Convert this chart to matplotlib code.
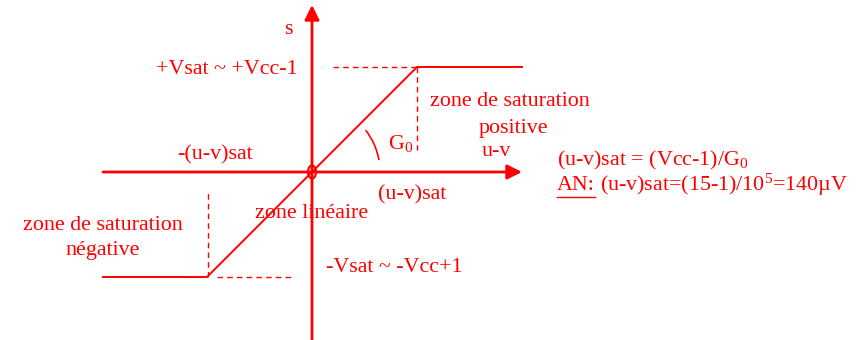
import matplotlib
matplotlib.use('Agg')
import matplotlib.pyplot as plt
from matplotlib.patches import Ellipse, Arc

plt.rcParams['font.family'] = ['Liberation Serif', 'DejaVu Serif']
plt.rcParams['mathtext.fontset'] = 'custom'
plt.rcParams['mathtext.rm'] = 'Liberation Serif'
plt.rcParams['mathtext.it'] = 'Liberation Serif:italic'

RED = '#ff0000'

# transfer characteristic s = f(u-v)
uv_sat = 105
v_sat = 105
uv = [-209, -uv_sat, uv_sat, 210]
s = [-v_sat, -v_sat, v_sat, v_sat]

# axes extent
x_min, x_max = -209, 210
y_min, y_max = -168, 167

fig = plt.figure(figsize=(8.68, 3.40), dpi=100)
ax = fig.add_axes([0, 0, 1, 1])
ax.set_xlim(-312, 556)
ax.set_ylim(-168, 172)
ax.axis('off')

# axes with arrows
ax.annotate('', xy=(x_max, 0), xytext=(x_min, 0),
            arrowprops=dict(arrowstyle='-|>', color=RED, lw=2, mutation_scale=22, shrinkA=0, shrinkB=0))
ax.annotate('', xy=(0, y_max), xytext=(0, y_min),
            arrowprops=dict(arrowstyle='-|>', color=RED, lw=2, mutation_scale=22, shrinkA=0, shrinkB=0))

# characteristic
ax.plot(uv, s, color=RED, lw=1.4, solid_joinstyle='miter')

# dashed guides
ax.plot([21, uv_sat], [v_sat, v_sat], color=RED, lw=1, ls=(0, (4, 3)))
ax.plot([uv_sat, uv_sat], [v_sat, 22], color=RED, lw=1, ls=(0, (4, 3)))
ax.plot([-104, -104], [-v_sat, -21], color=RED, lw=1, ls=(0, (4, 3)))
ax.plot([-95, -21], [-v_sat, -v_sat], color=RED, lw=1, ls=(0, (4, 3)))

# origin mark and gain angle
ax.add_patch(Ellipse((0, 0), 8, 13, fill=False, color=RED, lw=1.5))
ax.add_patch(Arc((0, 0), 136, 136, theta1=10, theta2=38, color=RED, lw=1.2))

fs = 15.8
txt = dict(color=RED, fontsize=fs, va='center')
ax.text(-24, 143, 's', ha='center', **txt)
ax.text(-14, 102, '+Vsat ~ +Vcc-1', ha='right', **txt)
ax.text(118, 71, 'zone de saturation', ha='left', **txt)
ax.text(236, 44, 'positive', ha='right', **txt)
ax.text(76, 29, r'G$_0$', ha='left', **txt)
ax.text(170, 20, 'u-v', ha='left', **txt)
ax.text(-59, 17, '-(u-v)sat', ha='right', **txt)
ax.text(66, -23, '(u-v)sat', ha='left', **txt)
ax.text(0, -41, 'zone linéaire', ha='center', **txt)
ax.text(-209, -54, 'zone de saturation', ha='center', **txt)
ax.text(-209, -78, 'négative', ha='center', **txt)
ax.text(14, -95, '-Vsat ~ -Vcc+1', ha='left', **txt)

ax.text(245, 12, r'(u-v)sat = (Vcc-1)/G$_0$', ha='left', **txt)
ax.text(245, -13, 'AN:', ha='left', **txt)
ax.text(288, -13, r'(u-v)sat=(15-1)/10$^5$=140µV', ha='left', **txt)
ax.plot([245, 283], [-25, -25], color=RED, lw=1)

fig.savefig('out.png', dpi=100)
